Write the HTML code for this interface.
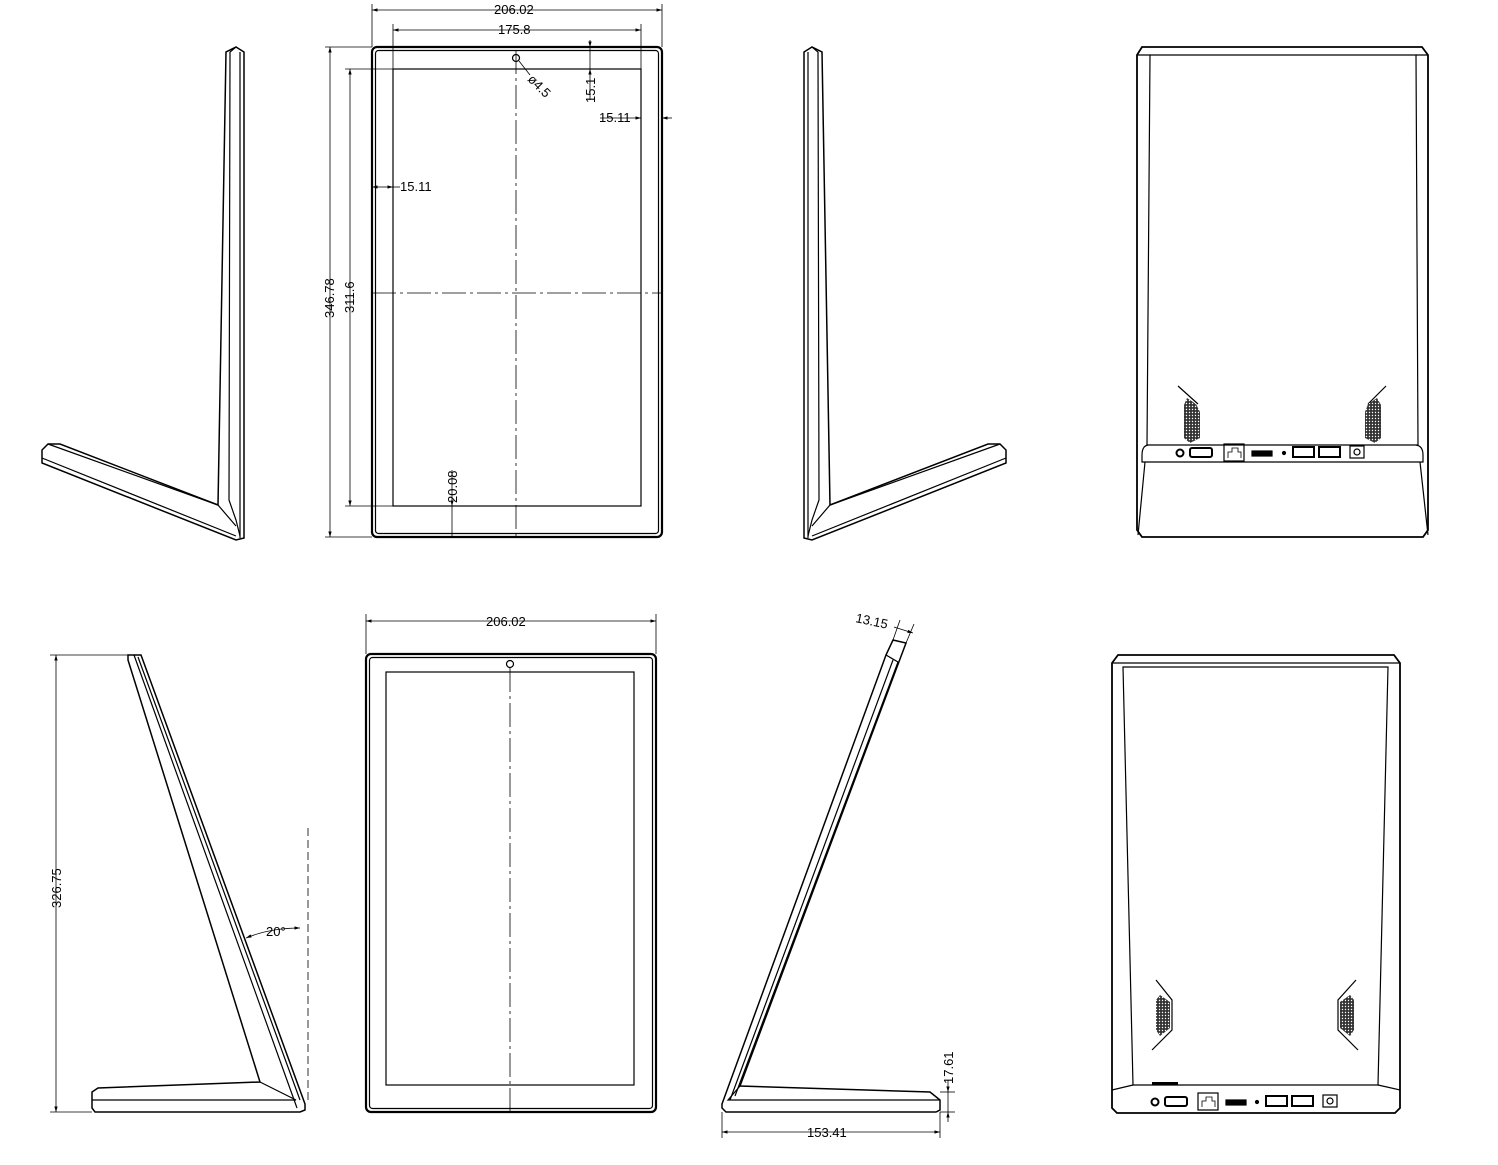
<!DOCTYPE html>
<html><head><meta charset="utf-8"><style>
html,body{margin:0;padding:0;background:#fff;}
svg{display:block;}
text{font-family:"Liberation Sans",sans-serif;font-size:13px;fill:#000;}
</style></head><body>
<svg width="1498" height="1165" viewBox="0 0 1498 1165" xmlns="http://www.w3.org/2000/svg">
<defs>
<marker id="a" viewBox="0 0 10 10" refX="10" refY="5" markerWidth="7" markerHeight="7" orient="auto-start-reverse"><path d="M0,2 L10,5 L0,8 z" fill="#000"/></marker>
<pattern id="dots" width="3" height="3" patternUnits="userSpaceOnUse"><rect width="3" height="3" fill="#333"/><circle cx="1.5" cy="1.5" r="0.7" fill="#fff"/></pattern>
</defs>
<g fill="none" stroke="#000" stroke-width="1.2">

<!-- ===== Top-left L side view ===== -->
<path d="M236,47 L244,52 L244,538 L236,540 L42,463 L42,450 L48,444 L60,444 L218,505 L226,52 Z" stroke-width="1.5"/>
<path d="M236,47 L230,52 L229,500 L236,520 L240,536"/>
<path d="M42,458 L236,536"/>
<path d="M48,444 L218,505 L236,526"/>
<path d="M240,52 L240,538"/>

<!-- ===== Top-right L (mirror) ===== -->
<g transform="translate(1048,0) scale(-1,1)">
<path d="M236,47 L244,52 L244,538 L236,540 L42,463 L42,450 L48,444 L60,444 L218,505 L226,52 Z" stroke-width="1.5"/>
<path d="M236,47 L230,52 L229,500 L236,520 L240,536"/>
<path d="M42,458 L236,536"/>
<path d="M48,444 L218,505 L236,526"/>
<path d="M240,52 L240,538"/>
</g>

<!-- ===== Top front view ===== -->
<rect x="372" y="47" width="290" height="490" rx="5" stroke-width="2.2"/>
<rect x="375.5" y="50.5" width="283" height="483" rx="3"/>
<rect x="393" y="69" width="248" height="437"/>
<line x1="516" y1="50" x2="516" y2="536" stroke-dasharray="24,4,3,4" stroke-width="0.8"/>
<line x1="372" y1="293" x2="661" y2="293" stroke-dasharray="24,4,3,4" stroke-width="0.8"/>
<circle cx="516" cy="58" r="3.5"/>
<g stroke-width="0.8">
<line x1="372" y1="4" x2="372" y2="47"/><line x1="662" y1="4" x2="662" y2="47"/>
<line x1="372" y1="10" x2="662" y2="10" marker-start="url(#a)" marker-end="url(#a)"/>
<line x1="393" y1="24" x2="393" y2="69"/><line x1="641" y1="24" x2="641" y2="69"/>
<line x1="393" y1="30" x2="641" y2="30" marker-start="url(#a)" marker-end="url(#a)"/>
<line x1="325" y1="47" x2="372" y2="47"/><line x1="325" y1="537" x2="372" y2="537"/>
<line x1="330" y1="47" x2="330" y2="537" marker-start="url(#a)" marker-end="url(#a)"/>
<line x1="345" y1="69" x2="393" y2="69"/><line x1="345" y1="506" x2="393" y2="506"/>
<line x1="350" y1="69" x2="350" y2="506" marker-start="url(#a)" marker-end="url(#a)"/>
<line x1="590" y1="47" x2="590" y2="69"/><line x1="590" y1="40" x2="590" y2="47" marker-end="url(#a)"/><line x1="590" y1="100" x2="590" y2="69" marker-end="url(#a)"/>
<line x1="600" y1="118" x2="641" y2="118" marker-end="url(#a)"/><line x1="672" y1="118" x2="662" y2="118" marker-end="url(#a)"/>
<line x1="380" y1="187" x2="372" y2="187" marker-end="url(#a)"/><line x1="380" y1="187" x2="393" y2="187" marker-end="url(#a)"/><line x1="393" y1="187" x2="400" y2="187"/>
<line x1="452" y1="470" x2="452" y2="506" marker-end="url(#a)"/><line x1="452" y1="537" x2="452" y2="506"/>
<line x1="519" y1="61" x2="530" y2="75"/>
</g>
<!-- ===== Top back view ===== -->
<path d="M1142,47 L1422,47 L1428,55 L1428,530 L1423,537 L1142,537 L1137,530 L1137,55 Z" stroke-width="1.8"/>
<path d="M1150,55 L1416,55 L1418,445 L1147,445 Z"/>
<path d="M1137,55 L1150,55 M1428,55 L1416,55"/>
<path d="M1148,445 Q1142,446 1142,455 L1142,462 L1423,462 L1423,455 Q1423,446 1416,445"/>
<path d="M1145,462 L1138,535 M1420,462 L1428,535"/>
<path d="M1178,386 L1198,404 M1386,386 L1368,404"/>
<path d="M1187,398 L1196,404 L1200,412 L1200,438 L1190,443 L1184,438 L1184,405 Z" fill="url(#dots)" stroke="none"/>
<path d="M1377,398 L1368,404 L1365,412 L1365,438 L1375,443 L1381,438 L1381,405 Z" fill="url(#dots)" stroke="none"/>
<circle cx="1180" cy="453" r="3.5" stroke-width="2"/>
<rect x="1190" y="448" width="22" height="9" rx="2" stroke-width="2"/>
<rect x="1224" y="444" width="20" height="17"/>
<path d="M1228,458 L1228,452 L1232,452 L1232,448 L1238,448 L1238,452 L1241,452 L1241,458" stroke-width="0.8"/>
<rect x="1252" y="451" width="20" height="5" fill="#000"/>
<circle cx="1284" cy="453" r="1.5" fill="#000"/>
<rect x="1293" y="447" width="21" height="10" stroke-width="2"/>
<rect x="1319" y="447" width="21" height="10" stroke-width="2"/>
<rect x="1350" y="446" width="14" height="12"/>
<circle cx="1357" cy="452" r="3"/>

<!-- ===== Bottom-left side view ===== -->
<path d="M128,655 L141,655 L305,1104 L305,1110 L300,1112 L95,1112 L92,1108 L92,1092 L98,1088 L260,1082 L128,660 Z" stroke-width="1.5"/>
<path d="M134,655 L297,1108 M138,657 L300,1100"/>
<path d="M260,1082 L296,1100 L92,1100"/>
<g stroke-width="0.8">
<line x1="50" y1="655" x2="128" y2="655"/><line x1="50" y1="1112" x2="92" y2="1112"/>
<line x1="56" y1="655" x2="56" y2="1112" marker-start="url(#a)" marker-end="url(#a)"/>
<line x1="308" y1="828" x2="308" y2="1100" stroke-dasharray="8,4"/>
<path d="M246,938 Q270,928 300,928" marker-start="url(#a)" marker-end="url(#a)"/>
</g>

<!-- ===== Bottom front view ===== -->
<rect x="366" y="654" width="290" height="458" rx="5" stroke-width="2.2"/>
<rect x="369.5" y="657.5" width="283" height="451" rx="3"/>
<rect x="386" y="672" width="248" height="413"/>
<line x1="510" y1="668" x2="510" y2="1112" stroke-dasharray="24,4,3,4" stroke-width="0.8"/>
<circle cx="510" cy="664" r="3.5"/>
<g stroke-width="0.8">
<line x1="366" y1="614" x2="366" y2="654"/><line x1="656" y1="614" x2="656" y2="654"/>
<line x1="366" y1="621" x2="656" y2="621" marker-start="url(#a)" marker-end="url(#a)"/>
</g>

<!-- ===== Bottom-right side view ===== -->
<path d="M886,655 L893,640 L906,643 L740,1086 L930,1092 L940,1100 L940,1110 L936,1112 L726,1112 L722,1108 L722,1104 Z" stroke-width="1.5"/>
<path d="M893,660 L730,1100 M898,662 L735,1096 M886,655 L898,662"/>
<path d="M740,1086 L728,1100 L940,1100"/>
<g stroke-width="0.8">
<line x1="893" y1="640" x2="900" y2="620"/><line x1="906" y1="643" x2="914" y2="624"/>
<line x1="894" y1="627" x2="913" y2="633" marker-end="url(#a)"/>
<line x1="940" y1="1092" x2="955" y2="1092"/><line x1="940" y1="1112" x2="955" y2="1112"/>
<line x1="948" y1="1080" x2="948" y2="1092" marker-end="url(#a)"/><line x1="948" y1="1122" x2="948" y2="1112" marker-end="url(#a)"/><line x1="948" y1="1092" x2="948" y2="1112"/>
<line x1="722" y1="1112" x2="722" y2="1138"/><line x1="940" y1="1112" x2="940" y2="1138"/>
<line x1="722" y1="1132" x2="940" y2="1132" marker-start="url(#a)" marker-end="url(#a)"/>
</g>

<!-- ===== Bottom back view ===== -->
<path d="M1118,655 L1394,655 L1400,663 L1400,1108 L1395,1113 L1117,1113 L1112,1108 L1112,663 Z" stroke-width="1.8"/>
<path d="M1123,667 L1388,667 L1378,1085 L1133,1085 Z"/>
<path d="M1112,663 L1400,663 M1112,1090 L1133,1085 M1400,1090 L1378,1085"/>
<path d="M1156,980 L1172,1000 L1172,1030 L1152,1050 M1356,980 L1338,1000 L1338,1030 L1358,1050"/>
<path d="M1160,995 L1170,1002 L1170,1028 L1160,1036 L1156,1030 L1156,1000 Z" fill="url(#dots)" stroke="none"/>
<path d="M1350,995 L1340,1002 L1340,1028 L1350,1036 L1354,1030 L1354,1000 Z" fill="url(#dots)" stroke="none"/>
<rect x="1152" y="1082" width="26" height="3" fill="#000" stroke="none"/>
<circle cx="1155" cy="1102" r="3.5" stroke-width="2"/>
<rect x="1165" y="1097" width="22" height="9" rx="2" stroke-width="2"/>
<rect x="1198" y="1093" width="20" height="17"/>
<path d="M1202,1107 L1202,1101 L1206,1101 L1206,1097 L1212,1097 L1212,1101 L1215,1101 L1215,1107" stroke-width="0.8"/>
<rect x="1226" y="1100" width="20" height="5" fill="#000"/>
<circle cx="1257" cy="1102" r="1.5" fill="#000"/>
<rect x="1266" y="1096" width="21" height="10" stroke-width="2"/>
<rect x="1292" y="1096" width="21" height="10" stroke-width="2"/>
<rect x="1323" y="1095" width="14" height="12"/>
<circle cx="1330" cy="1101" r="3"/>
</g>

<!-- text labels -->
<text x="494" y="14">206.02</text>
<text x="498" y="34">175.8</text>
<text x="599" y="122">15.11</text>
<text x="400" y="191">15.11</text>
<text transform="translate(334,318) rotate(-90)">346.78</text>
<text transform="translate(354,313) rotate(-90)">311.6</text>
<text transform="translate(595,103) rotate(-90)">15.1</text>
<text transform="translate(457,503) rotate(-90)">20.08</text>
<text transform="translate(527,80) rotate(45)">ø4.5</text>
<text transform="translate(61,908) rotate(-90)">326.75</text>
<text x="266" y="936">20°</text>
<text x="486" y="626">206.02</text>
<text transform="translate(855,622) rotate(12)">13.15</text>
<text transform="translate(953,1084) rotate(-90)">17.61</text>
<text x="807" y="1137">153.41</text>
</svg>
</body></html>
